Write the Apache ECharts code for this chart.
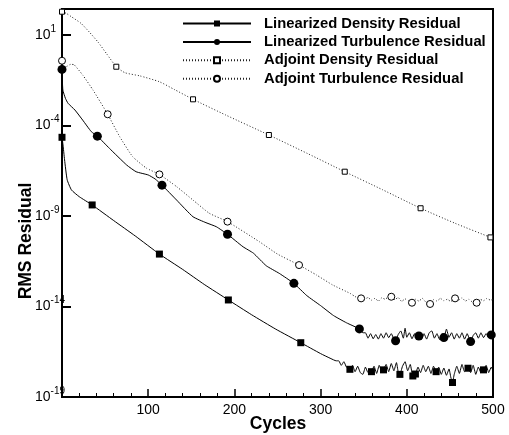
<!DOCTYPE html>
<html>
<head>
<meta charset="utf-8">
<script src="https://cdn.jsdelivr.net/npm/echarts@6/dist/echarts.min.js"></script>
<style>
html,body{margin:0;padding:0;background:#fff;}
#chart{width:509px;height:435px;}
</style>
</head>
<body>
<div id="chart"></div>
<script>
// ---------- data ----------
const seriesNames = ['Linearized Density Residual', 'Linearized Turbulence Residual', 'Adjoint Density Residual', 'Adjoint Turbulence Residual'];
const xTicks = [100, 200, 300, 400, 500];
const yTickExponents = [-19, -14, -9, -4, 1];

const ldCycles = [0,1,3,6,11,20,35,60,85,113,140,165,193,220,248,277,300,312,318,
  321,324,327,330,334,337,340,343,346,349,352,355,359,362,365,368,371,373,376,379,382,385,388,390,392,395,398,401,404,407,410,413,416,419,422,425,428,431,434,437,440,443,446,449,451,453,455,458,461,464,467,471,474,477,480,483,486,489,492,495,498,500];
const ldValues = [2.24e-5,1.0e-5,1.26e-6,1.0e-7,2.75e-8,1.17e-8,4.1e-9,5.6e-10,7.9e-11,7.9e-12,1.12e-12,1.66e-13,2.3e-14,3.5e-15,5.6e-16,1.0e-16,2.5e-17,1.32e-17,1.0e-17,
  1.0e-17,5.62e-18,8.91e-18,4.47e-18,3.39e-18,5.62e-18,2.51e-18,5.01e-18,2.24e-18,1.78e-18,4.47e-18,2.24e-18,
  2.51e-18,5.01e-18,2.0e-18,5.62e-18,2.51e-18,3.16e-18,6.31e-18,2.51e-18,7.08e-18,2.82e-18,7.94e-18,2.51e-18,1.78e-18,
  5.01e-18,8.91e-18,2.82e-18,6.31e-18,1.45e-18,1.86e-18,4.47e-18,2.24e-18,5.62e-18,2.51e-18,5.01e-18,2.0e-18,5.01e-18,2.51e-18,
  4.47e-18,1.78e-18,3.98e-18,1.58e-18,3.55e-18,1.26e-18,6.31e-19,1.78e-18,5.01e-18,2.0e-18,6.31e-18,2.51e-18,3.89e-18,
  2.24e-18,5.62e-18,1.78e-18,4.47e-18,2.24e-18,3.16e-18,5.62e-18,2.24e-18,4.47e-18,2.82e-18];
const ldMarkers = [0,35,113,193,277,334,359,373,392,407,410,434,453,471,489];

const ltCycles = [0,1,4,7,15,24,34,41,55,75,86,100,108,116,133,152,167,179,192,210,222,237,252,269,284,300,315,330,345,349,
  352,355,358,361,364,367,370,373,376,379,382,385,387,390,393,396,398,400,403,406,409,411,414,417,420,423,426,429,432,435,438,441,443,446,449,452,455,458,461,464,467,470,474,477,480,483,486,489,492,495,498,500];
const ltValues = [0.126,9.1e-3,3.16e-3,1.7e-3,7.2e-4,2.0e-4,4.6e-5,2.6e-5,5.5e-6,6.6e-7,2.8e-7,1.86e-7,1.12e-7,5.1e-8,7.6e-9,9.1e-10,4.3e-10,2.57e-10,9.8e-11,2.0e-11,8.9e-12,1.78e-12,6.8e-13,1.9e-13,4.0e-14,1.12e-14,3.16e-15,1.26e-15,5.8e-16,3.55e-16,
  3.55e-16,1.78e-16,3.16e-16,1.66e-16,2.82e-16,1.58e-16,3.16e-16,1.78e-16,3.55e-16,1.91e-16,3.16e-16,1.58e-16,
  1.29e-16,2.82e-16,4.47e-16,1.78e-16,6.31e-16,2.0e-16,3.55e-16,1.66e-16,3.16e-16,1.78e-16,
  2.34e-16,1.58e-16,3.16e-16,1.58e-16,3.55e-16,4.47e-16,1.78e-16,3.16e-16,1.51e-16,3.16e-16,
  1.91e-16,5.62e-16,2.0e-16,3.55e-16,1.58e-16,3.16e-16,1.78e-16,3.55e-16,1.58e-16,3.16e-16,
  1.15e-16,2.51e-16,3.55e-16,1.78e-16,3.55e-16,1.91e-16,3.16e-16,2.0e-16,2.69e-16,3.16e-16];
const ltMarkers = [0,41,116,192,269,345,387,414,443,474,498];

const adCycles = [0,5,11,22,32,42,52,63,73,90,113,130,152,190,240,285,328,372,416,456,497,500];
const adValues = [195,158,102,44.7,14.1,3.98,0.89,0.178,0.083,0.056,0.0263,0.01,2.82e-3,3.8e-4,3.0e-5,2.82e-6,2.82e-7,2.82e-8,2.69e-9,3.98e-10,6.6e-11,5.6e-11];
const adMarkers = [0,63,152,240,328,416,497];

const atCycles = [0,1,5,10,14,24,36,53,67,82,98,113,133,152,171,192,229,250,275,295,314,334,
  340,343,347,351,355,359,363,367,371,375,378,382,386,390,394,398,402,406,410,414,418,422,427,431,435,439,443,447,451,456,460,464,468,472,476,481,485,489,493,497,500];
const atValues = [0.38,0.145,0.178,0.24,0.23,0.062,9.1e-3,4.2e-4,2.4e-5,1.9e-6,4.4e-7,2.0e-7,4.2e-8,7.6e-9,1.41e-9,4.9e-10,3.8e-11,7.9e-12,1.95e-12,5.6e-13,1.55e-13,5.4e-14,
  3.55e-14,3.02e-14,2.82e-14,2.51e-14,3.16e-14,2.24e-14,2.82e-14,2.0e-14,3.02e-14,2.51e-14,3.31e-14,3.47e-14,2.4e-14,3.16e-14,1.91e-14,2.63e-14,2.09e-14,1.62e-14,2.51e-14,2.0e-14,2.82e-14,1.78e-14,1.38e-14,2.4e-14,2.0e-14,2.82e-14,2.09e-14,2.51e-14,1.91e-14,2.82e-14,2.24e-14,3.02e-14,2.0e-14,2.51e-14,1.78e-14,1.62e-14,2.51e-14,2.09e-14,2.82e-14,2.24e-14,2.51e-14];
const atMarkers = [0,53,113,192,275,347,382,406,427,456,481];

// ---------- chart ----------
const FONT = 'Liberation Sans, Arial, Helvetica, sans-serif';
function build(cycles, values, markers) {
  return cycles.map((c, i) => markers.includes(c) ? { value: [c, values[i]] } : { value: [c, values[i]], symbol: 'none' });
}
const solid = { color: '#000', width: 1 };
const dotted = { color: '#222', width: 1, type: [1, 2] };
const hollow = { color: '#fff', borderColor: '#000', borderWidth: 1 };

const chart = echarts.init(document.getElementById('chart'), null, { renderer: 'canvas' });
chart.setOption({
  animation: false,
  backgroundColor: '#fff',
  grid: { left: 62, right: 16, top: 9, bottom: 38, show: true, borderColor: '#000', borderWidth: 2, backgroundColor: 'transparent' },
  legend: {
    orient: 'vertical', left: 182, top: 16, padding: 0,
    itemWidth: 68, itemHeight: 7.5, itemGap: 3.4,
    data: seriesNames,
    textStyle: { fontFamily: FONT, fontSize: 14.8, fontWeight: 'bold', color: '#000', lineHeight: 15, padding: [0, 0, 0, 8] }
  },
  xAxis: {
    type: 'value', min: 0, max: 500, interval: 100,
    axisLine: { lineStyle: { color: '#000', width: 2 } },
    axisTick: { inside: true, length: 8, lineStyle: { color: '#000', width: 1.5 } },
    minorTick: { show: true, splitNumber: 5, length: 4, lineStyle: { color: '#000', width: 1 } },
    splitLine: { show: false },
    axisLabel: {
      margin: 6, color: '#000', fontFamily: FONT, fontSize: 14,
      formatter: v => xTicks.includes(v) ? String(v) : ''
    }
  },
  yAxis: {
    type: 'log', logBase: 10, min: 1e-19, max: Math.pow(10, 2.44), interval: 5,
    axisLine: { lineStyle: { color: '#000', width: 2 } },
    axisTick: { inside: true, length: 9, lineStyle: { color: '#000', width: 2 } },
    splitLine: { show: false },
    axisLabel: {
      align: 'left', margin: 27,
      formatter: v => {
        const e = Math.log10(v);
        const r = Math.round(e);
        if (Math.abs(e - r) > 1e-6 || !yTickExponents.includes(r)) return '';
        return '{b|10}{s|' + r + '}';
      },
      rich: {
        b: { fontFamily: FONT, fontSize: 14, color: '#000' },
        s: { fontFamily: FONT, fontSize: 10, color: '#000', padding: [0, 0, 12, 0] }
      }
    }
  },
  graphic: [
    { type: 'text', x: 26, y: 241, rotation: Math.PI / 2,
      style: { text: 'RMS Residual', font: 'bold 17.5px ' + FONT, fill: '#000', align: 'center', verticalAlign: 'middle' } },
    { type: 'text', x: 278, y: 424,
      style: { text: 'Cycles', font: 'bold 17.5px ' + FONT, fill: '#000', align: 'center', verticalAlign: 'middle' } }
  ],
  series: [
    { name: seriesNames[0], type: 'line', data: build(ldCycles, ldValues, ldMarkers), symbol: 'rect', symbolSize: 7, showAllSymbol: true,
      lineStyle: solid, itemStyle: { color: '#000', borderWidth: 0 }, smooth: 0.15, emphasis: { disabled: true }, z: 4 },
    { name: seriesNames[1], type: 'line', data: build(ltCycles, ltValues, ltMarkers), symbol: 'circle', symbolSize: 9, showAllSymbol: true,
      lineStyle: solid, itemStyle: { color: '#000', borderWidth: 0 }, smooth: 0.15, emphasis: { disabled: true }, z: 4 },
    { name: seriesNames[2], type: 'line', data: build(adCycles, adValues, adMarkers), symbol: 'rect', symbolSize: 5, showAllSymbol: true,
      lineStyle: dotted, itemStyle: hollow, smooth: 0.2, emphasis: { disabled: true }, z: 3 },
    { name: seriesNames[3], type: 'line', data: build(atCycles, atValues, atMarkers), symbol: 'circle', symbolSize: 7, showAllSymbol: true,
      lineStyle: dotted, itemStyle: hollow, smooth: 0.15, emphasis: { disabled: true }, z: 3 }
  ]
});
</script>
</body>
</html>
